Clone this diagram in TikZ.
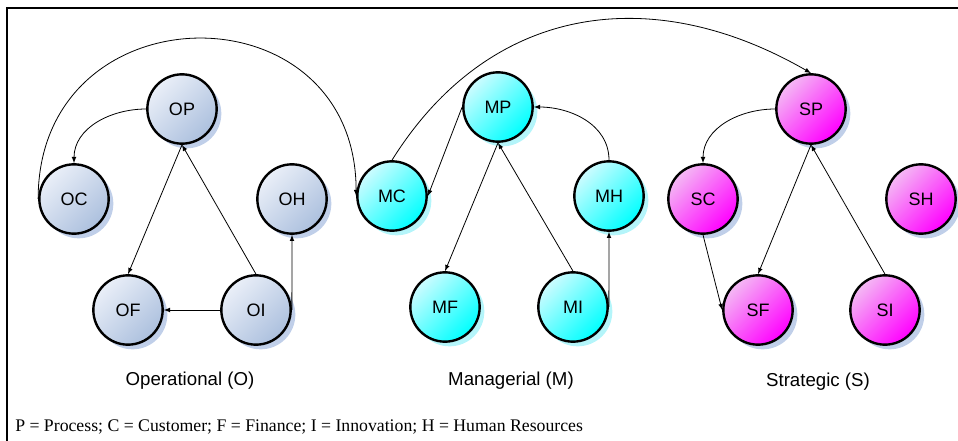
\documentclass[tikz,border=0pt]{standalone}
\usepackage{fontspec}
\setmainfont{Liberation Sans}
\newfontfamily\legendfont{Liberation Serif}
\usetikzlibrary{shadows}

\definecolor{opblue}{RGB}{172,192,222}
\definecolor{oplight}{RGB}{234,239,248}
\definecolor{mglight}{RGB}{205,252,255}
\definecolor{stlight}{RGB}{244,185,244}
\definecolor{shadowblue}{RGB}{192,207,233}
\definecolor{shadowcyan}{RGB}{180,245,250}

\begin{document}
\begin{tikzpicture}[x=0.75pt,y=0.75pt,
    kpi/.style={circle, draw, line width=1.8pt, minimum size=52pt, inner sep=0pt,
      font=\fontsize{13.5}{15}\selectfont},
    opnode/.style={kpi, top color=oplight, bottom color=opblue, shading angle=45,
      drop shadow={shadow xshift=3.5pt, shadow yshift=-3.5pt, fill=shadowblue, opacity=1}},
    mgnode/.style={kpi, top color=mglight, middle color=cyan!93!white, bottom color=cyan, shading angle=45,
      drop shadow={shadow xshift=3.5pt, shadow yshift=-3.5pt, fill=shadowcyan, opacity=1}},
    stnode/.style={kpi, top color=stlight, middle color=magenta!90!white, bottom color=magenta, shading angle=45,
      drop shadow={shadow xshift=3.5pt, shadow yshift=-3.5pt, fill=shadowblue, opacity=1}},
    link/.style={->, >=latex, line width=0.6pt},
    grouplabel/.style={anchor=base, font=\fontsize{14}{16}\selectfont}]

  \useasboundingbox (0,0) rectangle (958,-441);
  \draw[line width=1.5pt] (7,-441) -- (7,-8) -- (958,-8);

  % operational
  \node[opnode] (OP) at (182,-109) {OP};
  \node[opnode] (OC) at (74,-199) {OC};
  \node[opnode] (OH) at (292,-199) {OH};
  \node[opnode] (OF) at (128,-310) {OF};
  \node[opnode] (OI) at (256,-310) {OI};
  \node[grouplabel] (oplabel) at (190,-386) {Operational (O)};

  % managerial
  \node[mgnode] (MP) at (498,-107) {MP};
  \node[mgnode] (MC) at (392,-196) {MC};
  \node[mgnode] (MH) at (609,-196) {MH};
  \node[mgnode] (MF) at (445,-307) {MF};
  \node[mgnode] (MI) at (573,-307) {MI};
  \node[grouplabel] (mglabel) at (511,-386) {Managerial (M)};

  % strategic
  \node[stnode] (SP) at (811,-109) {SP};
  \node[stnode] (SC) at (703,-199) {SC};
  \node[stnode] (SH) at (921,-199) {SH};
  \node[stnode] (SF) at (758,-310) {SF};
  \node[stnode] (SI) at (885,-310) {SI};
  \node[grouplabel] (stlabel) at (818,-387) {Strategic (S)};

  \draw[link] (OP.west) to[out=180,in=90] (OC.north);
  \draw[link] (OP.south) -- (OF.north);
  \draw[link] (OI.north) -- (OP.south);
  \draw[link] (OI.west) -- (OF.east);
  \draw[link] (OI.east) -- (OH.south);
  \draw[link] (OC.west) to[out=90,in=90,looseness=1.7] (MC.west);

  \draw[link] (MP.west) -- (MC.east);
  \draw[link] (MP.south) -- (MF.north);
  \draw[link] (MI.north) -- (MP.south);
  \draw[link] (MI.east) -- (MH.south);
  \draw[link] (MH.north) to[out=90,in=0] (MP.east);
  \draw[link] (MC.north) to[out=58,in=150,looseness=1.1] (SP.north);

  \draw[link] (SP.west) to[out=180,in=90] (SC.north);
  \draw[link] (SP.south) -- (SF.north);
  \draw[link] (SI.north) -- (SP.south);
  \draw[link] (SC.south) -- (SF.west);

  \node[anchor=base west, inner sep=0pt, font=\legendfont\fontsize{13.3}{15}\selectfont] (legend)
    at (15,-432) {P = Process; C = Customer; F = Finance; I = Innovation; H = Human Resources};
\end{tikzpicture}
\end{document}
